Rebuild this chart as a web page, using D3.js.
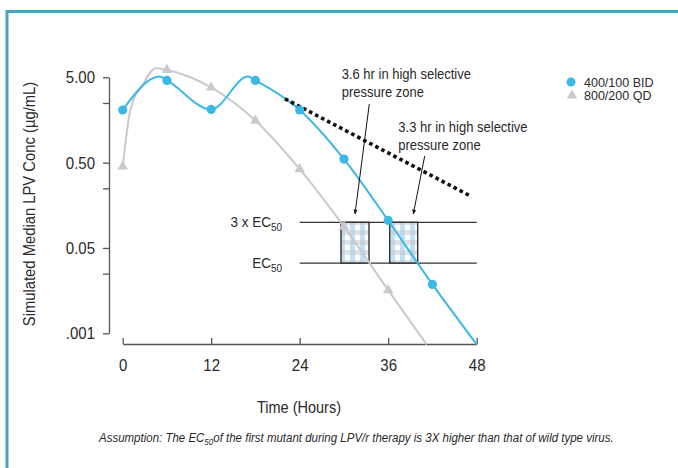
<!DOCTYPE html>
<html>
<head>
<meta charset="utf-8">
<script src="https://cdn.jsdelivr.net/npm/d3@7"></script>
<style>
body { margin: 0; background: #fff; }
svg text { font-family: "Liberation Sans", Arial, sans-serif; fill: #2a2a2a; }
</style>
</head>
<body>
<svg width="678" height="468"></svg>
<script>
// axis ticks
var xTicks = [0, 12, 24, 36, 48];
var yTicks = [5, 0.5, 0.05, 0.005];
var yTickLabels = ["5.00", "0.50", "0.05", ".001"];
var yMinorTicks = [2.5, 0.25, 0.025];

// 400/100 BID
var bidHours = [0, 5, 6, 12, 17, 18, 24, 30, 36, 42, 48];
var bidConc = [2.07, 5.1, 4.6, 2.1, 5.1, 4.6, 2.07, 0.55, 0.105, 0.0187, 0.0037];
var bidMarkerHours = [0, 6, 12, 18, 24, 30, 36, 42];

// 800/200 QD
var qdHours = [0, 1, 1.5, 2.4, 4.5, 6, 12, 18, 24, 30, 36, 41.2];
var qdConc = [0.45, 2.0, 2.8, 3.7, 6.4, 6.1, 3.8, 1.55, 0.42, 0.089, 0.016, 0.0037];
var qdMarkerHours = [0, 6, 12, 18, 24, 30, 36];

// dotted extrapolation
var dotHours = [22, 47.3];
var dotConc = [2.8, 0.2];

// EC50 thresholds and selective pressure zones
var ec50 = 0.0333, ec50x3 = 0.1;
var thresholdHours = [24, 48];
var zoneStart = [29.6, 36.2];
var zoneEnd = [33.4, 40.0];

var seriesNames = ["400/100 BID", "800/200 QD"];
var blue = "#3bb8e3", grey = "#c9cacf";
var squeeze = 0.88; // fake a condensed face

var svg = d3.select("svg");

// frame
svg.append("path")
    .attr("d", "M7,468V11.5H678")
    .attr("fill", "none")
    .attr("stroke", "#4aa2bd")
    .attr("stroke-width", 3);

var x = d3.scaleLinear().domain([0, 48]).range([122.7, 476.7]);
var y = d3.scaleLog().domain([0.005, 5]).range([333.3, 77.3]);

// narrow text helper: size is the width-equivalent size
function ntext(px, py, size, anchor, rot) {
    var g = svg.append("g").attr("transform", "translate(" + px + "," + py + ")" + (rot ? " rotate(" + rot + ")" : ""));
    return g.append("text")
        .attr("transform", "scale(" + squeeze + ",1)")
        .attr("font-size", size / squeeze)
        .attr("text-anchor", anchor || "start");
}

// pattern for the zones
var defs = svg.append("defs");
var pat = defs.append("pattern")
    .attr("id", "check")
    .attr("patternUnits", "userSpaceOnUse")
    .attr("width", 10).attr("height", 10);
pat.append("rect").attr("width", 10).attr("height", 10).attr("fill", "#fff");
pat.append("rect").attr("width", 5).attr("height", 10).attr("fill", "#a9d8f2").attr("opacity", 0.75);
pat.append("rect").attr("width", 10).attr("height", 5).attr("fill", "#c4c8ce").attr("opacity", 0.55);

defs.append("marker")
    .attr("id", "arrow")
    .attr("viewBox", "0 0 10 10")
    .attr("refX", 9).attr("refY", 5)
    .attr("markerWidth", 5).attr("markerHeight", 6)
    .attr("orient", "auto")
    .append("path")
    .attr("d", "M0,1L10,5L0,9z")
    .attr("fill", "#111");

// y axis
var yAxisG = svg.append("g").attr("transform", "translate(109,0)")
    .call(d3.axisLeft(y)
        .tickValues(yTicks)
        .tickFormat(function(d) { return yTickLabels[yTicks.indexOf(d)]; })
        .tickSize(6).tickSizeOuter(0).tickPadding(8));
yAxisG.selectAll(".tick text").attr("x", -14 / squeeze);
svg.append("g").attr("transform", "translate(109,0)")
    .call(d3.axisLeft(y).tickValues(yMinorTicks).tickFormat("").tickSize(6).tickSizeOuter(0))
    .select(".domain").remove();

// x axis
svg.append("g").attr("transform", "translate(0,344)")
    .call(d3.axisBottom(x)
        .tickValues(xTicks)
        .tickSize(-6).tickSizeOuter(0).tickPadding(15));

svg.selectAll(".domain, .tick line").attr("stroke", "#555").attr("stroke-width", 1.3);
svg.selectAll(".tick text")
    .attr("font-size", 15 / squeeze)
    .attr("transform", "scale(" + squeeze + ",1)");

// axis titles
ntext(35, 204, 14.8, "middle", -90).text("Simulated Median LPV Conc (\u00b5g/mL)");
ntext(299, 413, 14.5, "middle").text("Time (Hours)");

// threshold lines
var thresholds = [ec50x3, ec50];
svg.selectAll(".thr").data(thresholds).enter().append("line")
    .attr("class", "thr")
    .attr("x1", x(thresholdHours[0])).attr("x2", x(thresholdHours[1]))
    .attr("y1", function(d) { return y(d); }).attr("y2", function(d) { return y(d); })
    .attr("stroke", "#333").attr("stroke-width", 1.3);

// zone boxes
svg.selectAll(".zone").data(zoneStart).enter().append("rect")
    .attr("class", "zone")
    .attr("x", function(d) { return x(d); })
    .attr("y", y(ec50x3))
    .attr("width", function(d, i) { return x(zoneEnd[i]) - x(d); })
    .attr("height", y(ec50) - y(ec50x3))
    .attr("fill", "url(#check)")
    .attr("stroke", "#333").attr("stroke-width", 1.4);

// threshold labels
var thrNames = ["3 x EC", "EC"];
thresholds.forEach(function(v, i) {
    var t = ntext(282, y(v) + 5, 13.5, "end");
    t.append("tspan").text(thrNames[i]);
    t.append("tspan").attr("font-size", 10 / squeeze).attr("dy", 4).text("50");
});

// lines
var line = d3.line()
    .x(function(d) { return x(d[0]); })
    .y(function(d) { return y(d[1]); })
    .curve(d3.curveMonotoneX);

var qdData = qdHours.map(function(h, i) { return [h, qdConc[i]]; });
var bidData = bidHours.map(function(h, i) { return [h, bidConc[i]]; });

svg.append("path").attr("d", line(qdData))
    .attr("fill", "none").attr("stroke", grey).attr("stroke-width", 2);
svg.append("path").attr("d", line(bidData))
    .attr("fill", "none").attr("stroke", blue).attr("stroke-width", 2);

svg.append("path")
    .attr("d", d3.line()(dotHours.map(function(h, i) { return [x(h), y(dotConc[i])]; })))
    .attr("stroke", "#111").attr("stroke-width", 3.6)
    .attr("stroke-dasharray", "3.6,3.2");

// markers
var tri = d3.symbol().type(d3.symbolTriangle).size(48);
svg.selectAll(".qdm").data(qdMarkerHours).enter().append("path")
    .attr("class", "qdm")
    .attr("d", tri)
    .attr("transform", function(h) { return "translate(" + x(h) + "," + y(qdConc[qdHours.indexOf(h)]) + ")"; })
    .attr("fill", grey);
svg.selectAll(".bidm").data(bidMarkerHours).enter().append("circle")
    .attr("class", "bidm")
    .attr("cx", function(h) { return x(h); })
    .attr("cy", function(h) { return y(bidConc[bidHours.indexOf(h)]); })
    .attr("r", 4.6)
    .attr("fill", blue);

// annotations
function note(tx, ty, lines) {
    lines.forEach(function(s, i) {
        ntext(tx, ty + i * 18, 13).text(s);
    });
}
note(341.7, 79.3, ["3.6 hr in high selective", "pressure zone"]);
note(398.3, 131.7, ["3.3 hr in high selective", "pressure zone"]);

svg.append("line").attr("x1", 369.3).attr("y1", 104).attr("x2", 355).attr("y2", 214)
    .attr("stroke", "#111").attr("stroke-width", 1).attr("marker-end", "url(#arrow)");
svg.append("line").attr("x1", 424.7).attr("y1", 156).attr("x2", 413.3).attr("y2", 214)
    .attr("stroke", "#111").attr("stroke-width", 1).attr("marker-end", "url(#arrow)");

// legend
var leg = svg.append("g");
leg.append("circle").attr("cx", 571).attr("cy", 82).attr("r", 4.5).attr("fill", blue);
leg.append("path").attr("d", tri).attr("transform", "translate(572,95.5)").attr("fill", grey);
leg.selectAll("text").data(seriesNames).enter().append("text")
    .attr("x", 584).attr("y", function(d, i) { return 86.5 + i * 13; })
    .attr("font-size", 12.5)
    .text(function(d) { return d; });

// footnote
var fn = ntext(99, 442, 11.5, "start");
fn.attr("font-style", "italic");
fn.append("tspan").text("Assumption: The EC");
fn.append("tspan").attr("font-size", 8 / squeeze).attr("dy", 3).text("50");
fn.append("tspan").attr("dy", -3).text("of the first mutant during LPV/r therapy is 3X higher than that of wild type virus.");
</script>
</body>
</html>
